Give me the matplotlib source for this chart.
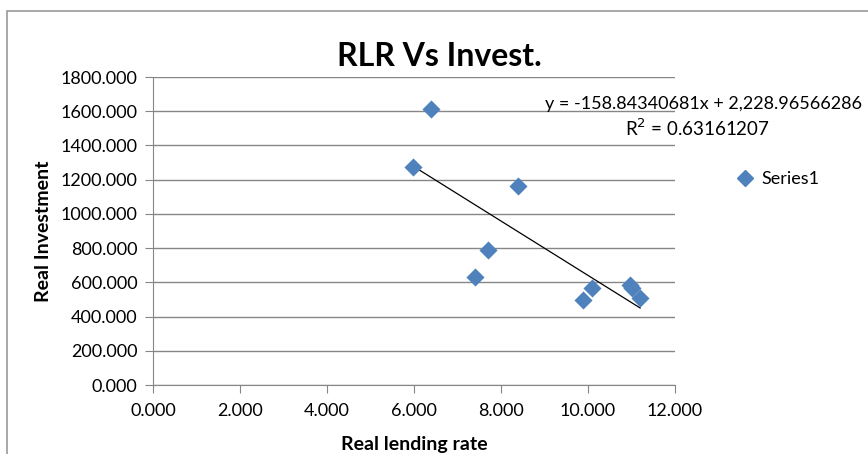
import numpy as np
import matplotlib.pyplot as plt
from matplotlib.patches import Rectangle
from matplotlib.lines import Line2D

# real lending rate vs real investment
rate = [6.38, 5.98, 8.38, 7.69, 7.41, 9.88, 10.10, 10.97, 11.02, 11.20]
invest = [1612, 1276, 1163, 789, 629, 497, 565, 584, 565, 507]

# linear trendline
slope = -158.84340681
intercept = 2228.96566286
r2 = 0.63161207

xticks = [0, 2, 4, 6, 8, 10, 12]
yticks = [0, 200, 400, 600, 800, 1000, 1200, 1400, 1600, 1800]

plt.rcParams['font.family'] = ['Lato', 'DejaVu Sans']
blue = '#4F81BD'
grey = '#868686'

fig = plt.figure(figsize=(8.68, 4.54), dpi=100)
ax = fig.add_axes([153/868, 69/454, 522/868, 308/454])

ax.scatter(rate, invest, marker='D', s=85, color=blue, zorder=3, linewidths=0)

tx = np.array([min(rate), max(rate)])
ax.plot(tx, slope*tx + intercept, color='black', lw=0.9, zorder=2)

ax.set_xlim(0, 12)
ax.set_ylim(0, 1800)
ax.set_xticks(xticks)
ax.set_yticks(yticks)
ax.set_xticklabels(['%.3f' % v for v in xticks])
ax.set_yticklabels(['%.3f' % v for v in yticks])
ax.tick_params(labelsize=13, length=6, color=grey, direction='out', pad=5)
ax.tick_params(axis='x', pad=7)
ax.grid(axis='y', color=grey, lw=1)
ax.set_axisbelow(True)
for s in ['top', 'right']:
    ax.spines[s].set_visible(False)
for s in ['left', 'bottom']:
    ax.spines[s].set_color(grey)

ax.set_xlabel('Real lending rate', fontsize=14, fontweight='bold', labelpad=12)
ax.set_ylabel('Real Investment', fontsize=14, fontweight='bold', labelpad=6)
fig.text(439/868, 1 - 57/454, 'RLR Vs Invest.', ha='center', va='center',
         fontsize=23, fontweight='bold')

fig.text(545/868, 1 - 104/454,
         'y = %.8fx + %s' % (slope, '{:,.8f}'.format(intercept)),
         ha='left', va='center', fontsize=13)
fig.text(697/868, 1 - 128/454, 'R$^2$ = %.8f' % r2,
         ha='center', va='center', fontsize=13.5)

# legend outside the plot area
handle = Line2D([], [], marker='D', ls='none', color=blue, markersize=8)
fig.legend([handle], ['Series1'], loc='center left',
           bbox_to_anchor=(718/868, 1 - 179/454), frameon=False,
           fontsize=13, handlelength=1.2, handletextpad=0.3)

# chart area border
fig.patches.append(Rectangle((7/868, -0.1), 1.2, 1.1 - 11/454,
                             transform=fig.transFigure, fill=False,
                             edgecolor='#9a9a9a', lw=1.2))

fig.savefig('out.png', dpi=100)
